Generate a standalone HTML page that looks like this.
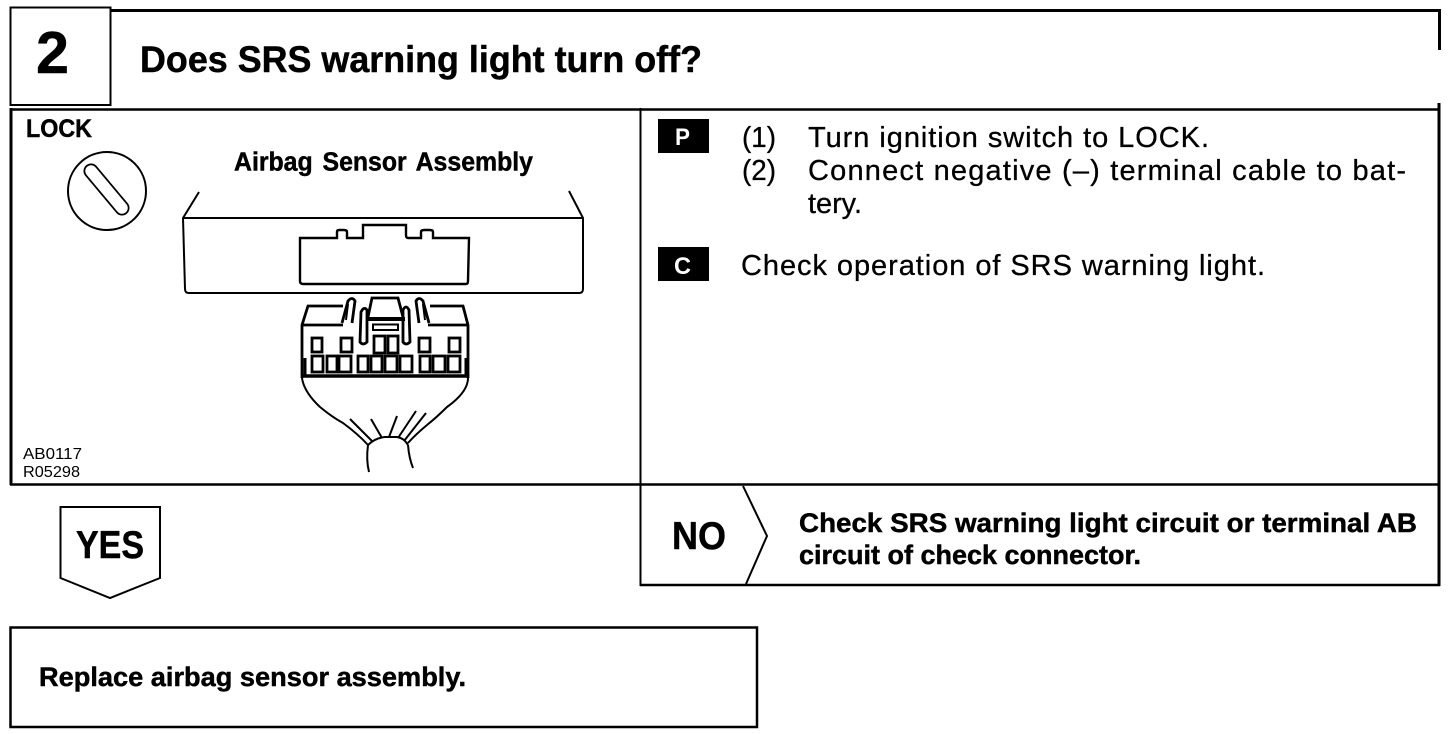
<!DOCTYPE html>
<html><head><meta charset="utf-8"><style>
html,body{margin:0;padding:0;background:#fff}
svg{display:block}
text{font-family:"Liberation Sans",Arial,sans-serif;fill:#000}
.b{font-weight:bold;stroke:#000;stroke-width:.45px}
.r{stroke:#000;stroke-width:.3px}
</style></head><body>
<svg width="1456" height="734" viewBox="0 0 1456 734" xmlns="http://www.w3.org/2000/svg">
<g fill="none" stroke="#000">
<!-- header -->
<rect x="10.5" y="7.5" width="100" height="97.5" stroke-width="2"/>
<path d="M111 10.5H1440.5" stroke-width="3"/>
<path d="M1439.5 9V50" stroke-width="3"/>
<path d="M10 109.5H1440" stroke-width="2.5"/>
<path d="M1439 103V586" stroke-width="3"/>
<path d="M11 108V485" stroke-width="3"/>
<path d="M10 484.5H1440" stroke-width="2.5"/>
<path d="M640.5 108V586" stroke-width="2"/>
<path d="M640 585H1440" stroke-width="2.5"/>
<path d="M743 486L767 536L746 584" stroke-width="2"/>
<!-- YES -->
<path d="M60.5 507H160V578L110 598L60.5 578Z" stroke-width="2"/>
<!-- result box -->
<rect x="10.5" y="627.5" width="746.5" height="99.5" stroke-width="2.5"/>
<!-- lock -->
<circle cx="107" cy="191" r="39" stroke-width="2"/>
<path d="M91 171L122 208" stroke-width="15" stroke-linecap="round"/>
<path d="M91 171L122 208" stroke="#fff" stroke-width="11.5" stroke-linecap="round"/>
<!-- assembly -->
<g stroke-width="2">
<path d="M199 192L183 218L185 289Q185 293 189 293H579Q583 293 583 289V218L569 191"/>
<path d="M183 218H583"/>
<path d="M300 238V281Q300 284 303 284H466Q468 284 468 281L469 238H433V232Q433 230 430 230H424Q421 230 421 232V238H408Q406 238 406 235V225H363V238H347V232Q347 230 344 230H339Q337 230 337 232V238Z" stroke-width="2.4"/>
</g>
<!-- plug -->
<g stroke-width="2.8">
<path d="M302 378V325L308 306H343"/>
<path d="M468 378V325L463 306H430"/>
<path d="M303 325H343M428 325H467"/>
<path d="M342 323L348 301Q352 296 355 301L352 323"/>
<path d="M348 304L346 320" stroke-width="2"/>
<path d="M429 323L423 301Q419 296 416 301L419 323"/>
<path d="M423 304L425 320" stroke-width="2"/>
<path d="M368 317L372 298H398L403 317"/>
<path d="M360 342L361 312Q364 306 367 310V342Q363 346 360 342Z"/>
<path d="M403 342V310Q406 304 409 310L410 342Q406 346 403 342Z"/>
<path d="M366 319H405" stroke-width="4"/>
<rect x="373" y="324.500" width="25" height="5.500" stroke-width="2"/>
<path d="M303 376H467" stroke-width="3.500"/>
<path d="M305 358V376M466 358V376" stroke-width="3"/>
</g>
<g stroke-width="2.800">
<rect x="312" y="338" width="10" height="14"/>
<rect x="341" y="338" width="11" height="14"/>
<rect x="374" y="336" width="11" height="17"/>
<rect x="388" y="336" width="10" height="17"/>
<rect x="419" y="338" width="11" height="14"/>
<rect x="449" y="338" width="11" height="14"/>
<rect x="312" y="356" width="11" height="16"/>
<rect x="327" y="356" width="10" height="16"/>
<rect x="339" y="356" width="12" height="16"/>
<rect x="358" y="356" width="10" height="16"/>
<rect x="371" y="356" width="11" height="16"/>
<rect x="385" y="356" width="12" height="16"/>
<rect x="400" y="356" width="12" height="16"/>
<rect x="420" y="356" width="10" height="16"/>
<rect x="433" y="356" width="12" height="16"/>
<rect x="448" y="356" width="12" height="16"/>
</g>
<!-- wires -->
<g stroke-width="2">
<path d="M302 378Q304 392 320 407Q332 417 343 423Q358 434 368 445"/>
<path d="M468 378Q468 392 447 407Q437 417 427 425Q415 435 408 443"/>
<path d="M368 445Q375 438 385 437H397Q404 438 408 445"/>
<path d="M368 445Q366 460 369 472"/>
<path d="M408 445Q409 458 413 468"/>
<path d="M350 419L372 441M371 419L382 438M397 416L389 437M416 411L398 438M426 413L404 441"/>
</g>
</g>
<!-- black tags -->
<rect x="658" y="119" width="51" height="34" fill="#000"/>
<rect x="658" y="247" width="51" height="34" fill="#000"/>
<!-- text -->
<text class="b" x="36" y="73" font-size="59" textLength="33" lengthAdjust="spacingAndGlyphs">2</text>
<text class="b" x="140" y="72" font-size="37.500" textLength="562" lengthAdjust="spacingAndGlyphs">Does SRS warning light turn off?</text>
<text class="b" x="26" y="137" font-size="25" textLength="66" lengthAdjust="spacingAndGlyphs">LOCK</text>
<text class="b" x="234" y="170.500" font-size="25.500" textLength="299" lengthAdjust="spacingAndGlyphs" style="word-spacing:3px">Airbag Sensor Assembly</text>
<text x="23" y="459" font-size="15.500" textLength="59" lengthAdjust="spacingAndGlyphs">AB0117</text>
<text x="23" y="477" font-size="15.500" textLength="57" lengthAdjust="spacingAndGlyphs">R05298</text>
<text font-weight="bold" x="675" y="145" font-size="24" style="fill:#fff" textLength="15" lengthAdjust="spacingAndGlyphs">P</text>
<text font-weight="bold" x="674" y="274" font-size="24" style="fill:#fff" textLength="17" lengthAdjust="spacingAndGlyphs">C</text>
<text class="r" x="742" y="147" font-size="29" textLength="34" lengthAdjust="spacingAndGlyphs">(1)</text>
<text class="r" x="808" y="147" font-size="29" textLength="401" lengthAdjust="spacing">Turn ignition switch to LOCK.</text>
<text class="r" x="742" y="180" font-size="29" textLength="34" lengthAdjust="spacingAndGlyphs">(2)</text>
<text class="r" x="808" y="180" font-size="29" textLength="598" lengthAdjust="spacing">Connect negative (–) terminal cable to bat-</text>
<text class="r" x="808" y="213" font-size="29" textLength="54" lengthAdjust="spacingAndGlyphs">tery.</text>
<text class="r" x="741" y="275" font-size="29" textLength="524" lengthAdjust="spacing">Check operation of SRS warning light.</text>
<text class="b" x="672" y="549" font-size="39" textLength="54" lengthAdjust="spacingAndGlyphs">NO</text>
<text class="b" x="76" y="558" font-size="39" textLength="68" lengthAdjust="spacingAndGlyphs">YES</text>
<text class="b" x="799" y="532" font-size="26.500" textLength="618" lengthAdjust="spacingAndGlyphs">Check SRS warning light circuit or terminal AB</text>
<text class="b" x="799" y="564" font-size="26.500" textLength="342" lengthAdjust="spacingAndGlyphs">circuit of check connector.</text>
<text class="b" x="39" y="686" font-size="26.500" textLength="427" lengthAdjust="spacingAndGlyphs">Replace airbag sensor assembly.</text>
</svg>
</body></html>
